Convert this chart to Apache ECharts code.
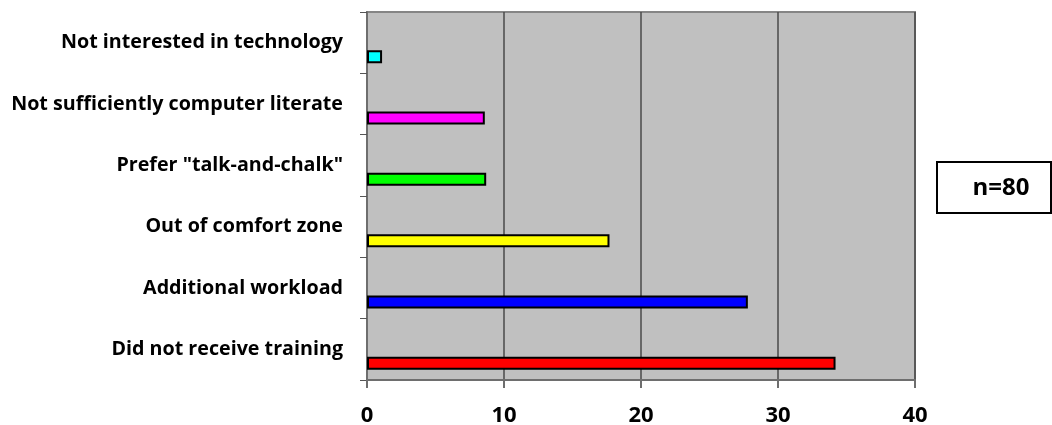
<!DOCTYPE html>
<html>
<head>
<meta charset="utf-8">
<style>
  html, body { margin: 0; padding: 0; background: #ffffff; }
  #chart { width: 1052px; height: 425px; }
</style>
<script src="https://cdn.jsdelivr.net/npm/echarts@6/dist/echarts.min.js"></script>
</head>
<body>
<div id="chart"></div>
<script>
// Reasons given for not using technology in teaching (bottom to top)
const categories = [
  'Did not receive training',
  'Additional workload',
  'Out of comfort zone',
  'Prefer "talk-and-chalk"',
  'Not sufficiently computer literate',
  'Not interested in technology'
];
const values = [34.2, 27.8, 17.7, 8.7, 8.6, 1.1];
const barColors = ['#ff0000', '#0000ff', '#ffff00', '#00ff00', '#ff00ff', '#00ffff'];
const xTicks = [0, 10, 20, 30, 40];
const sampleNote = 'n=80';

const FONT = '"Open Sans", Lato, sans-serif';
const chart = echarts.init(document.getElementById('chart'), null, { renderer: 'canvas' });

chart.setOption({
  animation: false,
  backgroundColor: '#ffffff',
  grid: {
    left: 367, right: 137, top: 12, bottom: 45,
    containLabel: false,
    outerBoundsMode: 'none',
    show: true,
    backgroundColor: '#c0c0c0',
    borderColor: '#858585',
    borderWidth: 2
  },
  xAxis: {
    type: 'value',
    min: xTicks[0],
    max: xTicks[xTicks.length - 1],
    interval: xTicks[1] - xTicks[0],
    axisLine: { show: true, lineStyle: { color: '#6e6e6e', width: 2 } },
    axisTick: { show: true, length: 8, lineStyle: { color: '#6e6e6e', width: 2 } },
    axisLabel: {
      margin: 25,
      color: '#000000',
      fontFamily: FONT,
      fontWeight: 'bold',
      fontSize: 22
    },
    splitLine: { show: true, lineStyle: { color: '#4a4a4a', width: 1.5 } }
  },
  yAxis: {
    type: 'category',
    data: categories,
    boundaryGap: true,
    axisLine: { show: true, lineStyle: { color: '#6e6e6e', width: 2 } },
    axisTick: { show: true, length: 7, lineStyle: { color: '#555555', width: 1 } },
    axisLabel: {
      margin: 24,
      color: '#000000',
      fontFamily: FONT,
      fontWeight: 'bold',
      fontSize: 19.7
    },
    splitLine: { show: false }
  },
  series: [
    {
      // empty slot that pushes the visible bars toward the lower half of each band
      type: 'bar',
      silent: true,
      barWidth: 13,
      barGap: '115%',
      data: categories.map(() => 0),
      itemStyle: { color: 'rgba(0,0,0,0)', borderWidth: 0 }
    },
    {
      type: 'bar',
      barWidth: 13,
      data: values.map((v, i) => ({
        value: v,
        itemStyle: { color: barColors[i] }
      })),
      itemStyle: { borderColor: '#000000', borderWidth: 2 }
    }
  ],
  graphic: [
    {
      type: 'rect',
      shape: { x: 937, y: 162, width: 114, height: 51 },
      style: { fill: '#ffffff', stroke: '#000000', lineWidth: 2 }
    },
    {
      type: 'text',
      x: 1001,
      y: 188,
      style: {
        text: sampleNote,
        fill: '#000000',
        font: 'bold 24px ' + FONT,
        textAlign: 'center',
        textVerticalAlign: 'middle'
      }
    }
  ]
});
</script>
</body>
</html>
